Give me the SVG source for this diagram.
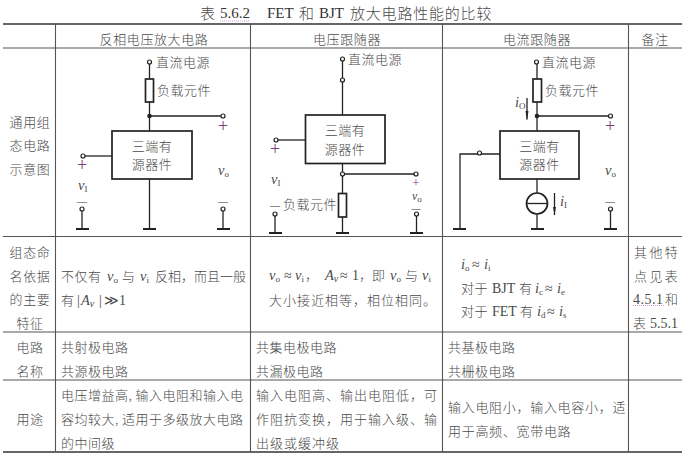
<svg xmlns="http://www.w3.org/2000/svg" width="685" height="456" viewBox="0 0 685 456">
<style>
text{font-family:"Noto Sans CJK SC","Noto Sans",sans-serif;font-size:13px;fill:#4a4a4a;font-weight:300}
.c{text-anchor:middle}
.s{font-family:"Liberation Serif",serif;font-weight:400;font-size:14px}
.i{font-family:"Liberation Serif",serif;font-style:italic;font-weight:400;font-size:14.5px}
.b{font-family:"Liberation Serif",serif;font-style:normal;font-weight:400;font-size:9px}
.bi{font-family:"Liberation Serif",serif;font-style:italic;font-weight:400;font-size:10px}
.p{font-family:"Liberation Serif",serif;font-size:18px;text-anchor:middle;fill:#7a3f78;font-weight:400}
.m{font-family:"Liberation Serif",serif;font-size:10px;text-anchor:middle;fill:#333;font-weight:400}
.w line,.w path{stroke:#222;stroke-width:1.3;fill:none}
.box{fill:#fff;stroke:#222;stroke-width:1.7}
.g{stroke:#222;stroke-width:2}
.t{fill:#fff;stroke:#222;stroke-width:1.2}
.j{fill:#222}
.ru{stroke:#555;stroke-width:1.1}
.rd{stroke:#333;stroke-width:1.6}
.u{stroke:#d79ad6;stroke-width:1;stroke-dasharray:1 1}
.h{font-size:15px;letter-spacing:.8px}
.hs{font-family:"Liberation Serif",serif;font-size:15px;font-weight:400;fill:#333}
</style>
<defs>
<marker id="ah" markerWidth="9" markerHeight="5" refX="8.5" refY="2.5" orient="auto" markerUnits="userSpaceOnUse"><path d="M0 1L9 2.5L0 4Z" fill="#222"/></marker>
</defs>

<g id="table">
<line class="rd" x1="3" y1="24" x2="682" y2="24"/>
<line class="ru" x1="3" y1="48" x2="682" y2="48"/>
<line class="ru" x1="3" y1="236.5" x2="682" y2="236.5"/>
<line class="ru" x1="3" y1="332" x2="682" y2="332"/>
<line class="ru" x1="3" y1="380" x2="682" y2="380"/>
<line class="rd" x1="3" y1="452" x2="682" y2="452"/>
<line class="ru" x1="55.5" y1="24" x2="55.5" y2="452"/>
<line class="ru" x1="250.5" y1="24" x2="250.5" y2="452"/>
<line class="ru" x1="442.5" y1="24" x2="442.5" y2="452"/>
<line class="ru" x1="628.5" y1="24" x2="628.5" y2="452"/>
</g>

<g id="title">
<text class="h" x="200" y="19">表</text>
<text class="hs" x="220" y="18">5.6.2</text>
<text class="hs" x="267" y="18">FET</text>
<text class="h" x="299" y="19">和</text>
<text class="hs" x="319" y="18">BJT</text>
<text class="h" x="350" y="19">放大电路性能的比较</text>
<line class="u" x1="220" y1="21" x2="250" y2="21"/>
</g>

<g id="headers">
<text class="c" x="154" y="44" style="letter-spacing:.6px">反相电压放大电路</text>
<text class="c" x="347" y="44" style="letter-spacing:.6px">电压跟随器</text>
<text class="c" x="537" y="44" style="letter-spacing:.6px">电流跟随器</text>
<text class="c" x="655" y="44" style="letter-spacing:.6px">备注</text>
</g>

<g id="row-labels">
<text class="c" x="30" y="127" style="letter-spacing:.6px">通用组</text>
<text class="c" x="30" y="150" style="letter-spacing:.6px">态电路</text>
<text class="c" x="30" y="174" style="letter-spacing:.6px">示意图</text>
<text class="c" x="30" y="257" style="letter-spacing:.6px">组态命</text>
<text class="c" x="30" y="281" style="letter-spacing:.6px">名依据</text>
<text class="c" x="30" y="304" style="letter-spacing:.6px">的主要</text>
<text class="c" x="30" y="328" style="letter-spacing:.6px">特征</text>
<text class="c" x="30" y="352" style="letter-spacing:.6px">电路</text>
<text class="c" x="30" y="376" style="letter-spacing:.6px">名称</text>
<text class="c" x="30" y="424" style="letter-spacing:.6px">用途</text>
</g>

<g id="connectors" class="w">
<line x1="149.5" y1="64" x2="149.5" y2="131"/>
<line x1="149.5" y1="116" x2="221" y2="116"/>
<line x1="85" y1="156" x2="112" y2="156"/>
<line x1="82" y1="211" x2="82" y2="229"/>
<line x1="223" y1="211" x2="223" y2="229"/>
<line x1="149.5" y1="179" x2="149.5" y2="229"/>
<line x1="342.5" y1="61" x2="342.5" y2="115"/>
<line x1="278" y1="140" x2="305.5" y2="140"/>
<line x1="342.5" y1="163.5" x2="342.5" y2="233"/>
<line x1="344.5" y1="174" x2="414" y2="174"/>
<line x1="275" y1="216" x2="275" y2="233"/>
<line x1="416.5" y1="216" x2="416.5" y2="233"/>
<line x1="537" y1="64" x2="537" y2="131"/>
<line x1="537" y1="116" x2="608.5" y2="116"/>
<line x1="537" y1="179" x2="537" y2="229"/>
<line x1="610.5" y1="211" x2="610.5" y2="229"/>
<path d="M500 154H460V229"/>
<line x1="527" y1="98" x2="527" y2="119.5" marker-end="url(#ah)"/>
<line x1="554.5" y1="193" x2="554.5" y2="215" marker-end="url(#ah)"/>
</g>

<g id="grounds">
<line class="g" x1="76" y1="229" x2="89" y2="229"/>
<line class="g" x1="143" y1="229" x2="156" y2="229"/>
<line class="g" x1="217" y1="229" x2="230" y2="229"/>
<line class="g" x1="269" y1="233" x2="282" y2="233"/>
<line class="g" x1="336" y1="233" x2="349" y2="233"/>
<line class="g" x1="410" y1="233" x2="423" y2="233"/>
<line class="g" x1="453" y1="229" x2="466" y2="229"/>
<line class="g" x1="531" y1="229" x2="544" y2="229"/>
<line class="g" x1="604" y1="229" x2="617" y2="229"/>
</g>

<g id="terminals">
<circle class="t" cx="149.5" cy="62" r="2"/>
<circle class="j" cx="149.5" cy="116" r="2.3"/>
<circle class="t" cx="223" cy="116" r="2"/>
<circle class="t" cx="83" cy="156" r="2"/>
<circle class="t" cx="82" cy="209" r="2"/>
<circle class="t" cx="223" cy="209" r="2"/>
<circle class="t" cx="342.5" cy="59" r="2"/>
<circle class="t" cx="342.5" cy="80" r="2"/>
<circle class="t" cx="276" cy="140" r="2"/>
<circle class="t" cx="342.5" cy="174" r="2"/>
<circle class="t" cx="416" cy="174" r="2"/>
<circle class="t" cx="275" cy="214" r="2"/>
<circle class="t" cx="416.5" cy="214" r="2"/>
<circle class="t" cx="536.5" cy="62" r="2"/>
<circle class="j" cx="537" cy="116" r="2.3"/>
<circle class="t" cx="610.5" cy="116" r="2"/>
<circle class="t" cx="479.5" cy="153" r="2"/>
<circle class="t" cx="610.5" cy="209" r="2"/>
</g>

<g id="load1"><rect class="box" x="145.5" y="79" width="8" height="23"/><text x="157" y="95" style="letter-spacing:.5px">负载元件</text></g>
<g id="device1"><rect class="box" x="112" y="131" width="80" height="48"/><text class="c" x="152" y="150.5" style="letter-spacing:.5px">三端有</text><text class="c" x="152" y="169" style="letter-spacing:.5px">源器件</text></g>
<g id="labels1">
<text x="156" y="67" style="letter-spacing:.5px">直流电源</text>
<text class="p" x="82" y="171">+</text>
<text class="i" x="78" y="190">v<tspan class="b" dy="2">I</tspan></text>
<text class="m" x="82" y="205">—</text>
<text class="p" x="223" y="132">+</text>
<text class="i" x="218" y="175">v<tspan class="b" dy="2">o</tspan></text>
<text class="m" x="223" y="205">—</text>
</g>

<g id="load2"><rect class="box" x="338.5" y="193.5" width="8" height="23.5"/><text x="283" y="209" style="letter-spacing:.5px">负载元件</text></g>
<g id="device2"><rect class="box" x="305.5" y="115" width="79.5" height="48.5"/><text class="c" x="345" y="135" style="letter-spacing:.5px">三端有</text><text class="c" x="345" y="153.5" style="letter-spacing:.5px">源器件</text></g>
<g id="labels2">
<text x="348" y="64" style="letter-spacing:.5px">直流电源</text>
<text class="p" x="275" y="155">+</text>
<text class="i" x="271" y="184">v<tspan class="b" dy="2">I</tspan></text>
<text class="m" x="275" y="209">—</text>
<text class="p" x="416" y="187" style="font-size:13px">+</text>
<text class="i" x="412" y="200" style="font-size:12px">v<tspan class="b" dy="1.5">o</tspan></text>
<text class="m" x="416" y="211" style="font-size:9px">—</text>
</g>

<g id="load3"><rect class="box" x="533" y="79" width="8.5" height="23"/><text x="545" y="95" style="letter-spacing:.5px">负载元件</text></g>
<g id="device3"><rect class="box" x="500" y="131" width="79" height="48"/><text class="c" x="539.5" y="150.5" style="letter-spacing:.5px">三端有</text><text class="c" x="539.5" y="169" style="letter-spacing:.5px">源器件</text></g>
<g id="source3"><circle class="box" cx="537" cy="203.5" r="10.5"/><line class="g" style="stroke-width:1.3" x1="526.5" y1="203.5" x2="547.5" y2="203.5"/></g>
<g id="labels3">
<text x="542" y="67" style="letter-spacing:.5px">直流电源</text>
<text class="i" x="515" y="107">i<tspan class="b" dy="2">O</tspan></text>
<text class="p" x="610" y="132">+</text>
<text class="i" x="605" y="175">v<tspan class="b" dy="2">o</tspan></text>
<text class="m" x="610" y="205">—</text>
<text class="i" x="560" y="206">i<tspan class="b" dy="2">I</tspan></text>
</g>

<g id="features">
<text y="281"><tspan x="61" style="letter-spacing:.5px">不仅有</tspan><tspan class="i" x="107">v</tspan><tspan class="b" dy="2">o</tspan><tspan x="122" dy="-2">与</tspan><tspan class="i" x="140">v</tspan><tspan class="b" dy="2">i</tspan><tspan x="155" dy="-2">反相，而且一般</tspan></text>
<text y="305"><tspan x="61">有</tspan><tspan class="s" x="77">|</tspan><tspan class="i" x="81">A</tspan><tspan class="bi" dy="2">v</tspan><tspan class="s" x="99" dy="-2">|</tspan><tspan class="s" x="104">≫1</tspan></text>
<text y="280"><tspan class="i" x="269">v</tspan><tspan class="b" dy="2">o</tspan><tspan class="s" x="284" dy="-2">≈</tspan><tspan class="i" x="295">v</tspan><tspan class="b" dy="2">i</tspan><tspan x="305" dy="-2">，</tspan><tspan class="i" x="325">A</tspan><tspan class="bi" dy="2">v</tspan><tspan class="s" x="340" dy="-2">≈</tspan><tspan class="s" x="352">1</tspan><tspan x="359">，即</tspan><tspan class="i" x="390">v</tspan><tspan class="b" dy="2">o</tspan><tspan x="405" dy="-2">与</tspan><tspan class="i" x="422">v</tspan><tspan class="b" dy="2">i</tspan></text>
<text x="269" y="305" style="letter-spacing:1px">大小接近相等，相位相同。</text>
<text y="269"><tspan class="i" x="461">i</tspan><tspan class="b" dy="2">o</tspan><tspan class="s" x="472" dy="-2">≈</tspan><tspan class="i" x="484">i</tspan><tspan class="b" dy="2">i</tspan></text>
<text y="293"><tspan x="461" style="letter-spacing:.5px">对于</tspan><tspan class="s" x="492">BJT</tspan><tspan x="519">有</tspan><tspan class="i" x="535">i</tspan><tspan class="b" dy="2">c</tspan><tspan class="s" x="545" dy="-2">≈</tspan><tspan class="i" x="557">i</tspan><tspan class="b" dy="2">e</tspan></text>
<text y="316"><tspan x="461" style="letter-spacing:.5px">对于</tspan><tspan class="s" x="492">FET</tspan><tspan x="520">有</tspan><tspan class="i" x="537">i</tspan><tspan class="b" dy="2">d</tspan><tspan class="s" x="547" dy="-2">≈</tspan><tspan class="i" x="559">i</tspan><tspan class="b" dy="2">s</tspan></text>
</g>

<g id="notes">
<text x="634" y="257" style="letter-spacing:2.4px">其他特</text>
<text x="634" y="281" style="letter-spacing:2.4px">点见表</text>
<text y="304"><tspan class="s" x="633" style="letter-spacing:.5px">4.5.1</tspan><tspan x="665">和</tspan></text>
<text y="328"><tspan x="633">表</tspan><tspan class="s" x="650">5.5.1</tspan></text>
<line class="u" x1="633" y1="305.5" x2="664" y2="305.5"/>
</g>

<g id="names">
<text x="61" y="352" style="letter-spacing:.5px">共射极电路</text>
<text x="61" y="376" style="letter-spacing:.5px">共源极电路</text>
<text x="256" y="352" style="letter-spacing:.5px">共集电极电路</text>
<text x="256" y="376" style="letter-spacing:.5px">共漏极电路</text>
<text x="448" y="352" style="letter-spacing:.5px">共基极电路</text>
<text x="448" y="376" style="letter-spacing:.5px">共栅极电路</text>
</g>

<g id="uses">
<text x="61" y="400" style="letter-spacing:.5px">电压增益高, 输入电阻和输入电</text>
<text x="61" y="424" style="letter-spacing:.5px">容均较大, 适用于多级放大电路</text>
<text x="61" y="448" style="letter-spacing:.5px">的中间级</text>
<text x="256" y="400" style="letter-spacing:1px">输入电阻高、输出电阻低，可</text>
<text x="256" y="424" style="letter-spacing:1px">作阻抗变换，用于输入级、输</text>
<text x="256" y="448" style="letter-spacing:1px">出级或缓冲级</text>
<text x="448" y="412" style="letter-spacing:.7px">输入电阻小，输入电容小，适</text>
<text x="448" y="436" style="letter-spacing:.7px">用于高频、宽带电路</text>
</g>
</svg>
